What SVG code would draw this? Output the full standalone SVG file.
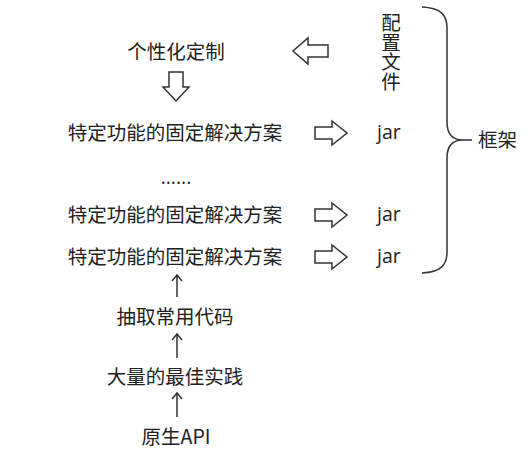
<svg xmlns="http://www.w3.org/2000/svg" width="532" height="458" viewBox="0 0 532 458">
<style>
.t{font-family:"Noto Sans CJK SC","Noto Sans",sans-serif;font-size:19.5px;fill:#222;}
.l{font-family:"Open Sans","Noto Sans",sans-serif;font-size:19.5px;fill:#222;}
.v{font-family:"Noto Sans CJK SC","Noto Sans",sans-serif;font-size:19.5px;fill:#222;writing-mode:vertical-rl;text-orientation:upright;}
.h{fill:#fff;stroke:#333;stroke-width:1.5;stroke-linejoin:miter;}
.c{fill:none;stroke:#333;stroke-width:1.5;}
</style>
<rect width="532" height="458" fill="#fff"/>
<g id="connectors">
<path class="h" d="M328,45 L308,45 L308,38 L293,51 L308,64 L308,57 L328,57 Z"/>
<path class="h" d="M169,72 L183,72 L183,87 L189,87 L176,101 L163,87 L169,87 Z"/>
<path class="h" d="M315,127 L332,127 L332,121 L347,133 L332,145 L332,139 L315,139 Z"/>
<path class="h" d="M315,209 L332,209 L332,203 L347,215 L332,227 L332,221 L315,221 Z"/>
<path class="h" d="M315,251 L332,251 L332,245 L347,257 L332,269 L332,263 L315,263 Z"/>
<path class="c" d="M177,297 V275 M172,281 L177,275 L182,281"/>
<path class="c" d="M177,358 V334 M172,340 L177,334 L182,340"/>
<path class="c" d="M177,417 V393 M172,399 L177,393 L182,399"/>
<path class="c" d="M422,7 C440,8 447,14 447,28 V122 C447,134 452,140 463,140 H472 M463,140 C452,140 447,146 447,158 V252 C447,266 440,272 422,273"/>
</g>
<g id="custom"><text class="t" x="176" y="59" text-anchor="middle">个性化定制</text></g>
<g id="config"><text class="v" x="391" y="13">配置文件</text></g>
<g id="sol1"><text class="t" x="175" y="140" text-anchor="middle">特定功能的固定解决方案</text></g>
<g id="jar1"><text class="l" x="377" y="139">jar</text></g>
<g id="dots"><text class="l" x="176" y="184" text-anchor="middle">......</text></g>
<g id="sol2"><text class="t" x="175" y="222" text-anchor="middle">特定功能的固定解决方案</text></g>
<g id="jar2"><text class="l" x="377" y="221">jar</text></g>
<g id="sol3"><text class="t" x="175" y="264" text-anchor="middle">特定功能的固定解决方案</text></g>
<g id="jar3"><text class="l" x="377" y="263">jar</text></g>
<g id="framework"><text class="t" x="478" y="147">框架</text></g>
<g id="extract"><text class="t" x="175" y="324" text-anchor="middle">抽取常用代码</text></g>
<g id="practice"><text class="t" x="175" y="384" text-anchor="middle">大量的最佳实践</text></g>
<g id="api"><text class="t" x="176" y="444" text-anchor="middle">原生API</text></g>
</svg>
